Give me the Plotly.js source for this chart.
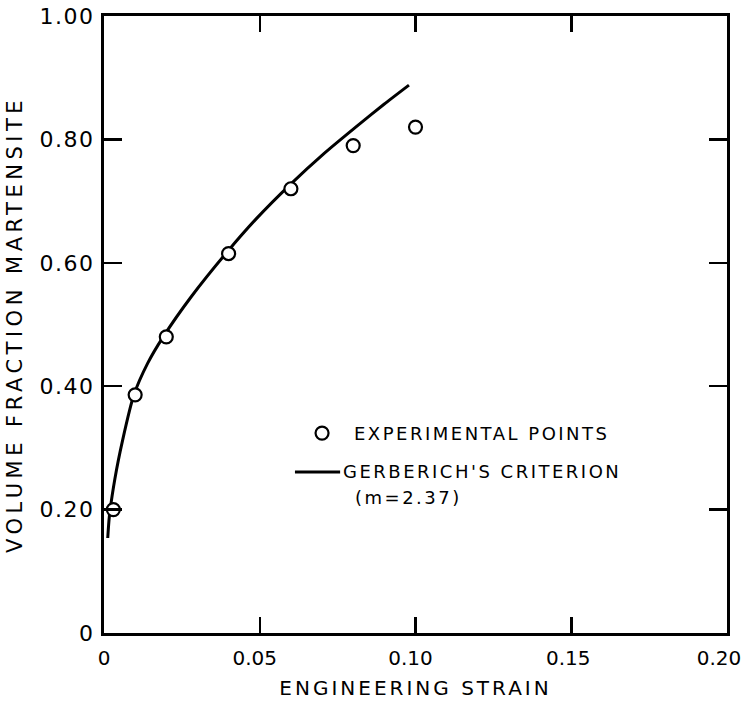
<!DOCTYPE html>
<html>
<head>
<meta charset="utf-8">
<script src="https://cdn.plot.ly/plotly-3.0.1.min.js"></script>
<style>
  html, body { margin: 0; padding: 0; background: #fff; }
  #chart { width: 748px; height: 701px; }
</style>
</head>
<body>
<div id="chart"></div>
<script>
// Experimental points
const expStrain = [0.003, 0.010, 0.020, 0.040, 0.060, 0.080, 0.100];
const expFraction = [0.20, 0.386, 0.48, 0.615, 0.72, 0.79, 0.82];

// Gerberich's criterion curve
const curveStrain = [0.0012, 0.0017, 0.0035, 0.006, 0.0096, 0.014, 0.019, 0.028, 0.0396, 0.049, 0.0596, 0.0706, 0.0813, 0.0899, 0.0979];
const curveFraction = [0.154, 0.188, 0.25, 0.313, 0.386, 0.437, 0.48, 0.545, 0.618, 0.672, 0.726, 0.777, 0.822, 0.857, 0.888];

// Tick labels
const xTickVals = [0, 0.05, 0.10, 0.15, 0.20];
const xTickText = ["0", "0.05", "0.10", "0.15", "0.20"];
const yTickVals = [0, 0.2, 0.4, 0.6, 0.8, 1.0];
const yTickText = ["0", "0.20", "0.40", "0.60", "0.80", "1.00"];

const FONT = "DejaVu Sans, Liberation Sans, Arial, sans-serif";

const traces = [
  {
    x: curveStrain, y: curveFraction,
    type: "scatter", mode: "lines",
    line: { color: "#000", width: 3, shape: "spline", smoothing: 0.6 },
    name: "GERBERICH'S CRITERION", showlegend: false, hoverinfo: "skip"
  },
  {
    x: expStrain, y: expFraction,
    type: "scatter", mode: "markers",
    marker: { symbol: "circle", size: 13, color: "#fff", line: { color: "#000", width: 2.2 } },
    cliponaxis: false,
    name: "EXPERIMENTAL POINTS", showlegend: false, hoverinfo: "skip"
  }
];

const axisCommon = {
  showgrid: false, zeroline: false,
  showline: true, linecolor: "#000", linewidth: 3,
  mirror: "ticks", ticks: "inside", tickcolor: "#000", tickwidth: 2.5,
  tickmode: "array", ticklabeloverflow: "allow"
};

const layout = {
  width: 748, height: 701,
  margin: { l: 104, r: 21, t: 16, b: 68 },
  paper_bgcolor: "#fff", plot_bgcolor: "#fff",
  font: { family: FONT, color: "#000" },
  showlegend: false,
  xaxis: Object.assign({}, axisCommon, {
    range: [0, 0.20],
    tickvals: xTickVals, ticktext: xTickText,
    ticklen: 16, ticklabelstandoff: 5,
    tickfont: { family: FONT, size: 20, color: "#000" },
    title: { text: "ENGINEERING STRAIN", font: { family: FONT, size: 20, color: "#000" }, standoff: 12 }
  }),
  yaxis: Object.assign({}, axisCommon, {
    range: [0, 1.0],
    tickvals: yTickVals, ticktext: yTickText,
    ticklen: 18, ticklabelstandoff: 2,
    tickfont: { family: FONT, size: 22, color: "#000" },
    title: { text: "VOLUME FRACTION MARTENSITE", font: { family: FONT, size: 21, color: "#000" }, standoff: 18 }
  }),
  shapes: [
    // legend key: circle
    { type: "circle", xref: "x", yref: "y", xsizemode: "pixel", ysizemode: "pixel",
      xanchor: 0.0700, yanchor: 0.324, x0: -6.5, x1: 6.5, y0: -6.5, y1: 6.5,
      line: { color: "#000", width: 2.2 }, fillcolor: "#fff" },
    // legend key: line
    { type: "line", xref: "x", yref: "y", x0: 0.0613, x1: 0.0758, y0: 0.261, y1: 0.261,
      line: { color: "#000", width: 3 } }
  ],
  annotations: [
    { text: "EXPERIMENTAL POINTS", xref: "x", yref: "y", x: 0.0796, y: 0.324,
      xanchor: "left", yanchor: "middle", showarrow: false,
      font: { family: FONT, size: 18, color: "#000" } },
    { text: "GERBERICH'S CRITERION", xref: "x", yref: "y", x: 0.0761, y: 0.261,
      xanchor: "left", yanchor: "middle", showarrow: false,
      font: { family: FONT, size: 18, color: "#000" } },
    { text: "(m=2.37)", xref: "x", yref: "y", x: 0.0799, y: 0.220,
      xanchor: "left", yanchor: "middle", showarrow: false,
      font: { family: FONT, size: 18, color: "#000" } }
  ]
};

const xLabelShift = { "0": 0, "0.05": -5, "0.10": -5, "0.15": -3, "0.20": -8 };

const gd = document.getElementById("chart");
function spaceLetters() {
  gd.querySelectorAll(".xtitle").forEach(e => e.style.letterSpacing = "3px");
  gd.querySelectorAll(".ytitle").forEach(e => e.style.letterSpacing = "4.5px");
  gd.querySelectorAll(".ytick text").forEach(e => e.style.letterSpacing = "1.5px");
  gd.querySelectorAll(".xtick text").forEach(e => {
    const s = xLabelShift[e.textContent];
    e.setAttribute("dx", String(s === undefined ? -5 : s));
  });
  gd.querySelectorAll(".annotation-text").forEach(e => {
    if (e.dataset.spaced) return;
    const b = e.getBBox();
    e.style.letterSpacing = "2.5px";
    e.setAttribute("text-anchor", "start");
    e.setAttribute("x", b.x);
    e.dataset.spaced = "1";
  });
}
Plotly.newPlot(gd, traces, layout, { staticPlot: true, displayModeBar: false }).then(() => {
  spaceLetters();
  gd.on("plotly_afterplot", spaceLetters);
});
</script>
</body>
</html>
